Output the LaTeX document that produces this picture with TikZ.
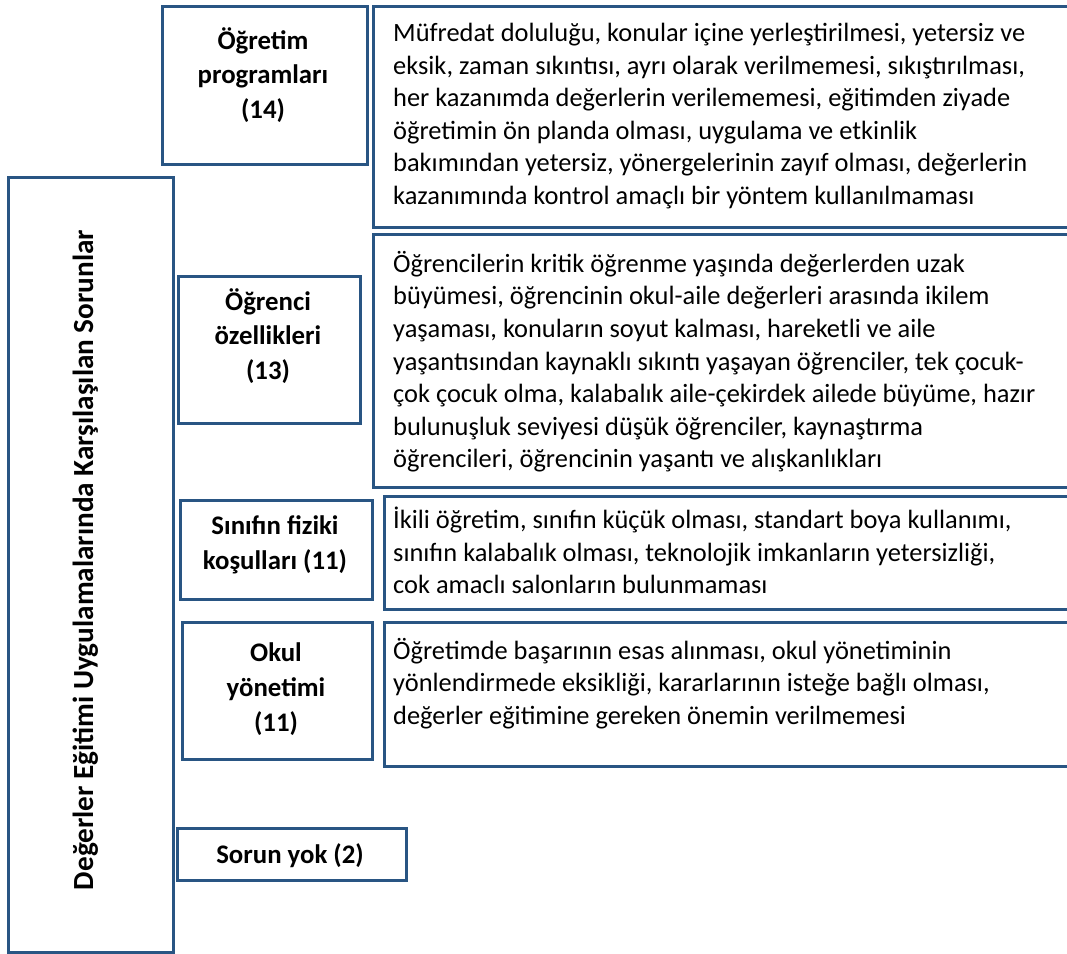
\documentclass[tikz,border=0pt]{standalone}
\usepackage{fontspec}
\setmainfont{Carlito}
\definecolor{bcol}{RGB}{41,85,131}
\begin{document}
\begin{tikzpicture}[x=1pt,y=-1pt,
  box/.style={draw=bcol, line width=3pt, rectangle, inner sep=0pt, anchor=north west},
  body/.style={font=\fontsize{26.4}{32.6}\selectfont, align=left, inner sep=0pt, anchor=north west, text=black},
  lab/.style={font=\bfseries\fontsize{26.8}{34.8}\selectfont, align=center, inner sep=0pt, text=black}]
\clip (0,0) rectangle (1067,953);
% main vertical box
\node[box, minimum width=165pt, minimum height=775pt] (main) at (7,176) {};
\node[lab, rotate=90, font=\bfseries\fontsize{29.2}{34}\selectfont] (title) at (86,560) {Değerler Eğitimi Uygulamalarında Karşılaşılan Sorunlar};
% category boxes
\node[box, minimum width=205pt, minimum height=158pt] (c1) at (161,5) {};
\node[lab] (l1) at (263,75) {Öğretim\\programları\\(14)};
\node[box, minimum width=182pt, minimum height=147pt] (c2) at (177,275) {};
\node[lab] (l2) at (268,336) {Öğrenci\\özellikleri\\(13)};
\node[box, minimum width=192pt, minimum height=99pt] (c3) at (179,499) {};
\node[lab] (l3) at (275,545) {Sınıfın fiziki\\koşulları (11)};
\node[box, minimum width=190pt, minimum height=137pt] (c4) at (181,621) {};
\node[lab] (l4) at (276,689) {Okul\\yönetimi\\(11)};
\node[box, minimum width=229pt, minimum height=52pt] (c5) at (176,827) {};
\node[lab] (l5) at (290,856) {Sorun yok (2)};
% description boxes
\node[box, minimum width=720pt, minimum height=221pt] (d1) at (372,5) {};
\node[body] (t1) at (393,23) {Müfredat doluluğu, konular içine yerleştirilmesi, yetersiz ve\\
eksik, zaman sıkıntısı, ayrı olarak verilmemesi, sıkıştırılması,\\
her kazanımda değerlerin verilememesi, eğitimden ziyade\\
öğretimin ön planda olması, uygulama ve etkinlik\\
bakımından yetersiz, yönergelerinin zayıf olması, değerlerin\\
kazanımında kontrol amaçlı bir yöntem kullanılmaması};
\node[box, minimum width=720pt, minimum height=253pt] (d2) at (372,233) {};
\node[body] (t2) at (393,251) {Öğrencilerin kritik öğrenme yaşında değerlerden uzak\\
büyümesi, öğrencinin okul-aile değerleri arasında ikilem\\
yaşaması, konuların soyut kalması, hareketli ve aile\\
yaşantısından kaynaklı sıkıntı yaşayan öğrenciler, tek çocuk-\\
çok çocuk olma, kalabalık aile-çekirdek ailede büyüme, hazır\\
bulunuşluk seviyesi düşük öğrenciler, kaynaştırma\\
öğrencileri, öğrencinin yaşantı ve alışkanlıkları};
\node[box, minimum width=720pt, minimum height=113pt] (d3) at (383,495) {};
\node[body] (t3) at (393,507) {İkili öğretim, sınıfın küçük olması, standart boya kullanımı,\\
sınıfın kalabalık olması, teknolojik imkanların yetersizliği,\\
cok amaclı salonların bulunmaması};
\node[box, minimum width=720pt, minimum height=144pt] (d4) at (383,621) {};
\node[body] (t4) at (393,638) {Öğretimde başarının esas alınması, okul yönetiminin\\
yönlendirmede eksikliği, kararlarının isteğe bağlı olması,\\
değerler eğitimine gereken önemin verilmemesi};
\end{tikzpicture}
\end{document}
